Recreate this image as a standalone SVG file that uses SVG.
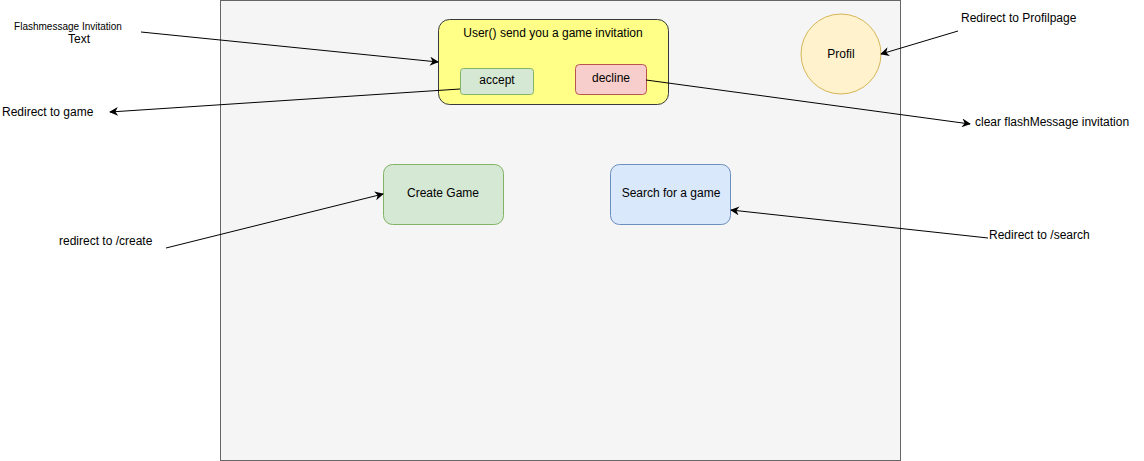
<svg xmlns="http://www.w3.org/2000/svg" width="1144" height="461" viewBox="0 0 1144 461">
<style>
text{font-family:"Liberation Sans",Arial,sans-serif;font-size:12px;fill:#000}
.c{text-anchor:middle}
.e{fill:none;stroke:#000;stroke-width:1}
</style>
<defs>
<marker id="a" viewBox="0 0 10 10" refX="9" refY="5" markerWidth="9" markerHeight="9" orient="auto" markerUnits="userSpaceOnUse">
<path d="M0,0 L10,5 L0,10 L3,5 Z" fill="#000"/>
</marker>
</defs>
<rect width="1144" height="461" fill="#fff"/>
<g id="page"><rect x="220.5" y="0.5" width="680" height="460" fill="#f5f5f5" stroke="#666"/></g>
<g id="invitation">
<rect x="438.5" y="19.5" width="230" height="85" rx="11" fill="#ffff88" stroke="#36393d"/>
<text class="c" x="553" y="37">User() send you a game invitation</text>
</g>
<g id="accept"><rect x="460.5" y="68.5" width="73" height="26" rx="3" fill="#d5e8d4" stroke="#82b366"/><text class="c" x="497" y="84">accept</text></g>
<g id="decline"><rect x="575.5" y="64.5" width="71" height="30" rx="4" fill="#f8cecc" stroke="#b85450"/><text class="c" x="611" y="82">decline</text></g>
<g id="profil"><circle cx="841" cy="54" r="40" fill="#fff2cc" stroke="#d6b656"/><text class="c" x="841" y="58">Profil</text></g>
<g id="create"><rect x="383.5" y="164.5" width="120" height="60" rx="9" fill="#d5e8d4" stroke="#82b366"/><text class="c" x="443" y="197">Create Game</text></g>
<g id="search"><rect x="610.5" y="164.5" width="120" height="60" rx="9" fill="#dae8fc" stroke="#6c8ebf"/><text class="c" x="671" y="197">Search for a game</text></g>
<g id="labels">
<text class="c" x="68" y="30" style="font-size:10px">Flashmessage Invitation</text>
<text class="c" x="79" y="43">Text</text>
<text x="2" y="116">Redirect to game</text>
<text x="961" y="22">Redirect to Profilpage</text>
<text x="975" y="126">clear flashMessage invitation</text>
<text x="59" y="245">redirect to /create</text>
<text x="989" y="239">Redirect to /search</text>
</g>
<g id="connectors">
<path class="e" d="M141,32 L438,62" marker-end="url(#a)"/>
<path class="e" d="M460,89 L110,112" marker-end="url(#a)"/>
<path class="e" d="M646,80 L970,124" marker-end="url(#a)"/>
<path class="e" d="M958,31 L881,54" marker-end="url(#a)"/>
<path class="e" d="M166,248 L383,194" marker-end="url(#a)"/>
<path class="e" d="M988,238 L731,210" marker-end="url(#a)"/>
</g>
</svg>
